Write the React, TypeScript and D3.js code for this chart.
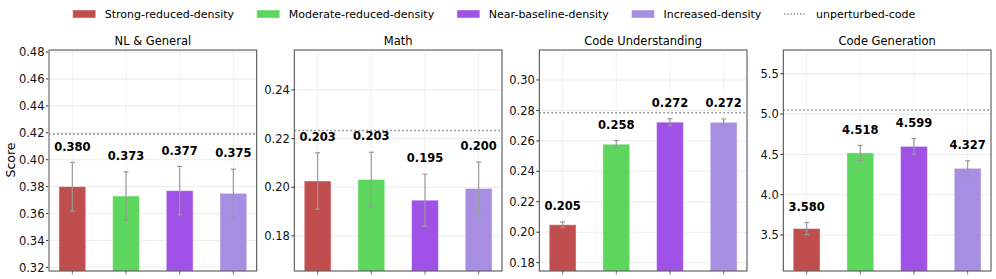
import React, { useEffect, useRef } from 'react';
import * as d3 from 'd3';

// categories / series
const groups = ['Strong-reduced-density', 'Moderate-reduced-density', 'Near-baseline-density', 'Increased-density'];
const colors = ['#c14e4e', '#5cd65c', '#a052e6', '#a88ee2'];
const panels = ['NL & General', 'Math', 'Code Understanding', 'Code Generation'];

const scores = [
  [0.380, 0.373, 0.377, 0.375],
  [0.2026, 0.2032, 0.1947, 0.1995],
  [0.2049, 0.2578, 0.2723, 0.2722],
  [3.580, 4.518, 4.599, 4.327],
];
const errors = [
  [0.018, 0.018, 0.018, 0.018],
  [0.0116, 0.0112, 0.0107, 0.0109],
  [0.0018, 0.0024, 0.0023, 0.0022],
  [0.075, 0.093, 0.097, 0.093],
];
const valueLabels = [
  ['0.380', '0.373', '0.377', '0.375'],
  ['0.203', '0.203', '0.195', '0.200'],
  ['0.205', '0.258', '0.272', '0.272'],
  ['3.580', '4.518', '4.599', '4.327'],
];
const unperturbed = [0.419, 0.2233, 0.2785, 5.05];
const yLimits = [
  [0.3173, 0.4815],
  [0.1656, 0.2564],
  [0.1745, 0.3197],
  [3.054, 5.794],
];
const yTicks = [
  [0.32, 0.34, 0.36, 0.38, 0.40, 0.42, 0.44, 0.46, 0.48],
  [0.18, 0.20, 0.22, 0.24],
  [0.18, 0.20, 0.22, 0.24, 0.26, 0.28, 0.30],
  [3.5, 4.0, 4.5, 5.0, 5.5],
];
const tickFormats = ['.2f', '.2f', '.2f', '.1f'];

const W = 996;
const H = 279;

const App = () => {
  const svgRef = useRef<SVGSVGElement>(null);

  useEffect(() => {
    const svg = d3.select(svgRef.current);
    svg.selectAll('*').remove();
    svg.style('font-family', '"DejaVu Sans", sans-serif');

    const top = 50;
    const bottom = 271;
    const panelW = 207.7;
    const lefts = [49, 294.3, 539.3, 783.3];

    panels.forEach((title, p) => {
      const x0 = lefts[p];
      const g = svg.append('g');

      const x = d3
        .scaleBand()
        .domain(groups)
        .range([x0, x0 + panelW])
        .paddingInner(0.5)
        .paddingOuter(0.185);
      const y = d3.scaleLinear().domain(yLimits[p]).range([bottom, top]);
      const cx = (d: string) => x(d)! + x.bandwidth() / 2;

      // faint grid
      g.append('g')
        .selectAll('line')
        .data(yTicks[p])
        .join('line')
        .attr('x1', x0)
        .attr('x2', x0 + panelW)
        .attr('y1', (d) => y(d))
        .attr('y2', (d) => y(d))
        .attr('stroke', '#e6e6e6')
        .attr('stroke-width', 0.8);
      g.append('g')
        .selectAll('line')
        .data(groups)
        .join('line')
        .attr('x1', cx)
        .attr('x2', cx)
        .attr('y1', top)
        .attr('y2', bottom)
        .attr('stroke', '#ececec')
        .attr('stroke-width', 0.8);

      // bars
      g.append('g')
        .selectAll('rect')
        .data(groups)
        .join('rect')
        .attr('x', (d) => x(d)!)
        .attr('width', x.bandwidth())
        .attr('y', (d, i) => y(scores[p][i]))
        .attr('height', (d, i) => bottom - y(scores[p][i]))
        .attr('fill', (d, i) => colors[i])
        .attr('stroke', 'white')
        .attr('stroke-opacity', 0.45)
        .attr('stroke-width', 1);

      // error bars
      const eb = g
        .append('g')
        .attr('stroke', '#9a9a9a')
        .attr('stroke-width', 1.2)
        .selectAll('g')
        .data(groups)
        .join('g');
      eb.append('line')
        .attr('x1', cx)
        .attr('x2', cx)
        .attr('y1', (d, i) => y(scores[p][i] + errors[p][i]))
        .attr('y2', (d, i) => y(scores[p][i] - errors[p][i]));
      [1, -1].forEach((s) => {
        eb.append('line')
          .attr('x1', (d) => cx(d) - 2.5)
          .attr('x2', (d) => cx(d) + 2.5)
          .attr('y1', (d, i) => y(scores[p][i] + s * errors[p][i]))
          .attr('y2', (d, i) => y(scores[p][i] + s * errors[p][i]));
      });

      // unperturbed reference
      g.append('line')
        .attr('x1', x0)
        .attr('x2', x0 + panelW)
        .attr('y1', y(unperturbed[p]))
        .attr('y2', y(unperturbed[p]))
        .attr('stroke', '#8c8c8c')
        .attr('stroke-width', 1.6)
        .attr('stroke-dasharray', '1.6,2.4');

      // value labels
      g.append('g')
        .selectAll('text')
        .data(groups)
        .join('text')
        .attr('x', cx)
        .attr('y', (d, i) => y(scores[p][i] + errors[p][i]) - 16)
        .attr('dy', '0.36em')
        .attr('text-anchor', 'middle')
        .attr('font-size', 11.5)
        .attr('font-weight', 'bold')
        .text((d, i) => valueLabels[p][i]);

      // y axis
      const fmt = d3.format(tickFormats[p]);
      const yt = g.append('g').selectAll('g').data(yTicks[p]).join('g');
      yt.append('line')
        .attr('x1', x0 - 3)
        .attr('x2', x0)
        .attr('y1', (d) => y(d))
        .attr('y2', (d) => y(d))
        .attr('stroke', '#333');
      yt.append('text')
        .attr('x', x0 - 4.5)
        .attr('y', (d) => y(d))
        .attr('dy', '0.36em')
        .attr('text-anchor', 'end')
        .attr('font-size', 11.5)
        .attr('fill', '#111')
        .text((d) => fmt(d));

      // x ticks
      g.append('g')
        .selectAll('line')
        .data(groups)
        .join('line')
        .attr('x1', cx)
        .attr('x2', cx)
        .attr('y1', bottom)
        .attr('y2', bottom + 3.5)
        .attr('stroke', '#777');

      // spines
      g.append('rect')
        .attr('x', x0)
        .attr('y', top)
        .attr('width', panelW)
        .attr('height', bottom - top)
        .attr('fill', 'none')
        .attr('stroke', '#444')
        .attr('stroke-width', 1);
      if (p === 0) {
        g.append('line')
          .attr('x1', x0)
          .attr('x2', x0)
          .attr('y1', top)
          .attr('y2', bottom)
          .attr('stroke', '#aaa')
          .attr('stroke-width', 1.6);
      }

      // title
      g.append('text')
        .attr('x', x0 + panelW / 2)
        .attr('y', 41)
        .attr('dy', '0.36em')
        .attr('text-anchor', 'middle')
        .attr('font-size', 11.5)
        .text(title);
    });

    // y label
    svg
      .append('text')
      .attr('transform', 'translate(10.5,160) rotate(-90)')
      .attr('dy', '0.36em')
      .attr('text-anchor', 'middle')
      .attr('font-size', 12.5)
      .text('Score');

    // legend
    const legend = svg.append('g');
    const items = [
      ...groups.map((name, i) => ({ name, color: colors[i], line: false })),
      { name: 'unperturbed-code', color: '#8c8c8c', line: true },
    ];
    let cursor = 0;
    items.forEach((it) => {
      const item = legend.append('g').attr('transform', `translate(${cursor},0)`);
      if (it.line) {
        item.append('line')
          .attr('x1', 0)
          .attr('x2', 22)
          .attr('y1', 14)
          .attr('y2', 14)
          .attr('stroke', it.color)
          .attr('stroke-width', 1.3)
          .attr('stroke-dasharray', '1.3,1.9');
      } else {
        item.append('rect')
          .attr('x', 0)
          .attr('y', 10)
          .attr('width', 23)
          .attr('height', 8)
          .attr('fill', it.color)
          .attr('stroke', 'white')
          .attr('stroke-opacity', 0.45);
      }
      const t = item
        .append('text')
        .attr('x', 32)
        .attr('y', 14)
        .attr('dy', '0.36em')
        .attr('font-size', 11)
        .text(it.name);
      const tw = (t.node() as SVGTextElement).getComputedTextLength();
      cursor += 32 + tw + 22.7;
    });
    const total = cursor - 22.7;
    legend.attr('transform', `translate(${494 - total / 2},0)`);
  }, []);

  return (
    <svg
      ref={svgRef}
      width={W}
      height={H}
      style={{ position: 'absolute', left: 0, top: 0, background: 'white' }}
    />
  );
};

export default App;
